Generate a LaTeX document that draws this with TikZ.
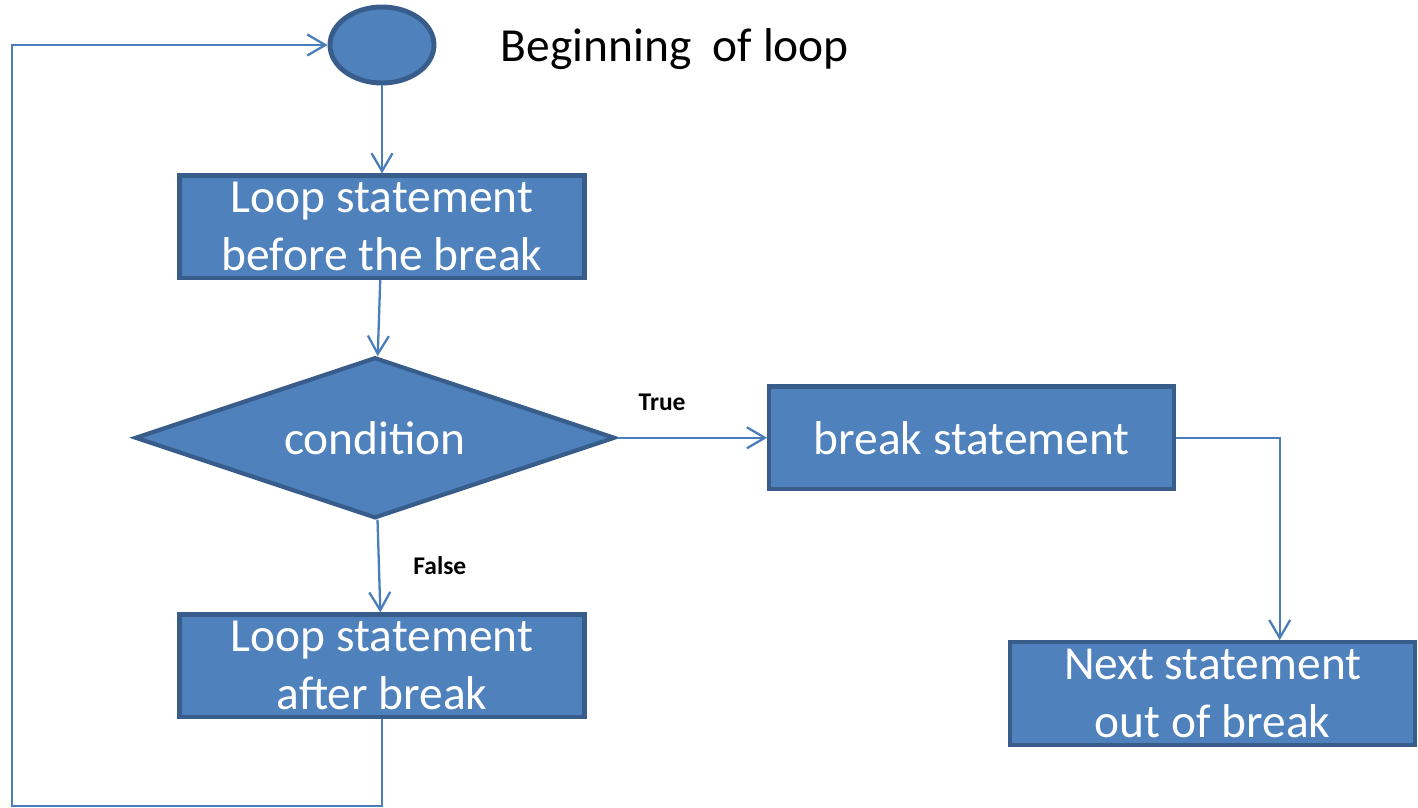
\documentclass[tikz,border=0pt]{standalone}
\usepackage{fontspec}
\setmainfont{Carlito}
\usepackage{xcolor}
\usepackage{tikz}
\usetikzlibrary{positioning,shapes.geometric,arrows.meta}
\definecolor{boxfill}{HTML}{4F81BD}
\definecolor{boxline}{HTML}{385D8A}
\definecolor{flowline}{HTML}{4A7EBB}

\begin{document}
\begin{tikzpicture}[>={Straight Barb[length=0.36cm,width=0.42cm]},
    shape fill/.style={draw=boxline, fill=boxfill, text=white, line width=2.4pt},
    block/.style={shape fill, align=center, inner sep=0pt, minimum width=8.1cm, minimum height=2.05cm, font=\fontsize{27}{33}\selectfont},
    flow/.style={draw=flowline, line width=1.3pt, ->},
    tag/.style={font=\fontsize{14.5}{17}\selectfont\bfseries}]
    \useasboundingbox (0,0) rectangle (28.36,-16.16);
    \node (start) [ellipse, shape fill, line width=2.8pt, minimum width=2.08cm, minimum height=1.52cm] at (7.64,-0.9) {};
    \node (title) [right=1.28cm of start, yshift=-0.08cm, inner sep=0pt, font=\fontsize{27}{33}\selectfont] {Beginning~ of loop};
    \node (before) [block, below=1.76cm of start] {Loop statement\\before the break};
    \node (cond) [diamond, shape fill, below=1.5cm of before, xshift=-0.14cm, aspect=2.9, inner sep=0pt, minimum width=9.6cm, minimum height=3.22cm, font=\fontsize{27}{33}\selectfont] {condition};
    \node (brk) [block, right=3cm of cond] {break statement};
    \node (after) [block, below=1.84cm of cond, xshift=0.14cm] {Loop statement\\after break};
    \node (next) [block, below=2.98cm of brk, xshift=4.82cm] {Next statement\\out of break};
    \coordinate (corner) at (0.24,-16.12);
    \draw[flow] (start) -- (before);
    \draw[flow] (before) -- (cond);
    \draw[flow] (cond) -- node[tag, pos=0.3, above=0.4cm] {True} (brk);
    \draw[flow] (cond) -- node[tag, right=0.55cm] {False} (after);
    \draw[flow] (brk) -| ([xshift=1.34cm]next.north);
    \draw[flow] (after.south) |- (corner) |- (start);
\end{tikzpicture}
\end{document}
